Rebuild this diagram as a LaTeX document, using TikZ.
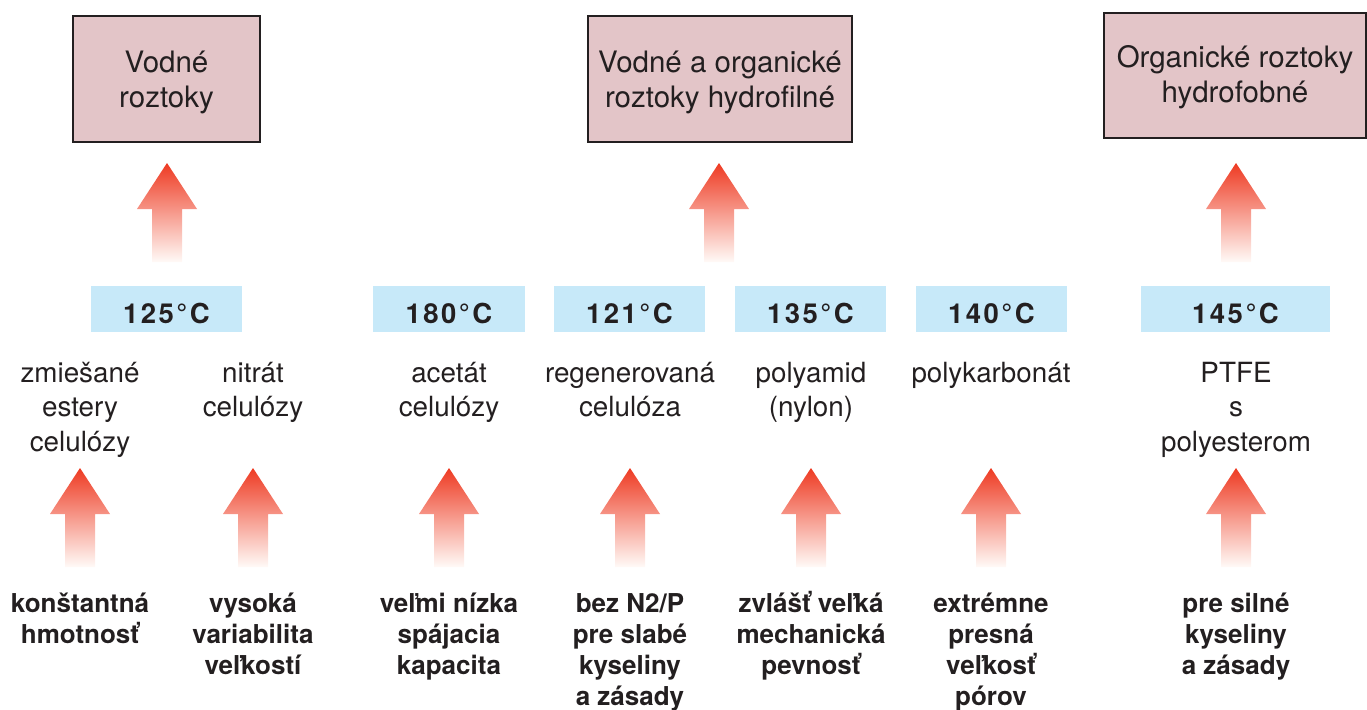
\documentclass[tikz,border=0pt]{standalone}
\usepackage{fontspec}
\setmainfont{TeX Gyre Heros}
\definecolor{txt}{HTML}{231F20}
\definecolor{pinkfill}{HTML}{E3C5C8}
\definecolor{tempfill}{HTML}{C7E9F9}
\definecolor{arrtop}{HTML}{EE3A22}
\definecolor{arrmid}{HTML}{F58C5E}
\definecolor{arrbot}{HTML}{FFFAF7}
\tikzset{
  pinkbox/.style={draw=txt, line width=1.3pt, fill=pinkfill, align=center, inner sep=0pt,
    text depth=0pt, font=\fontsize{29.5}{34.5}\selectfont, text=txt},
  tempbox/.style={fill=tempfill, minimum height=46pt, inner sep=0pt,
    text height=28pt, text depth=0pt, text=txt,
    font=\fontsize{27.5}{30}\selectfont\bfseries\addfontfeatures{LetterSpace=9}},
  mat/.style={align=center, inner sep=0pt, anchor=base, text=txt,
    font=\fontsize{27.8}{34.5}\selectfont},
  prop/.style={align=center, inner sep=0pt, anchor=base, text=txt,
    font=\fontsize{26}{31}\selectfont\bfseries},
  uparr/.pic={\shade[top color=arrtop, middle color=arrmid, bottom color=arrbot]
    (0,0) -- (30,46) -- (15,46) -- (15,99) -- (-15,99) -- (-15,46) -- (-30,46) -- cycle;}
}
\begin{document}
\begin{tikzpicture}[x=1pt,y=-1pt]
\useasboundingbox (0,0) rectangle (1367,709);
% top boxes
\node[pinkbox, text height=56pt, minimum width=187pt, minimum height=126pt] (b1) at (166.5,79) {Vodné\\roztoky};
\node[pinkbox, text height=56pt, minimum width=264pt, minimum height=126pt] (b2) at (720,79) {Vodné a organické\\roztoky hydrofilné};
\node[pinkbox, text height=53pt, minimum width=262pt, minimum height=125pt] (b3) at (1235,75.5) {Organické roztoky\\hydrofobné};
% top arrows
\pic (ta1) at (167,163) {uparr};
\pic (ta2) at (719,163) {uparr};
\pic (ta3) at (1236,163) {uparr};
% temperatures
\node[tempbox, minimum width=151pt] (t1) at (166.5,309) {125°C};
\node[tempbox, minimum width=152pt] (t2) at (449,309) {180°C};
\node[tempbox, minimum width=151pt] (t3) at (629.5,309) {121°C};
\node[tempbox, minimum width=151pt] (t4) at (810.5,309) {135°C};
\node[tempbox, minimum width=151pt] (t5) at (991.5,309) {140°C};
\node[tempbox, minimum width=189pt] (t6) at (1235.5,309) {145°C};
% materials (anchor = baseline of last line)
\node[mat] (m1) at (80,451) {zmiešané\\estery\\celulózy};
\node[mat] (m2) at (253,416.5) {nitrát\\celulózy};
\node[mat] (m3) at (449,416.5) {acetát\\celulózy};
\node[mat] (m4) at (630,416.5) {regenerovaná\\celulóza};
\node[mat] (m5) at (811,416.5) {polyamid\\(nylon)};
\node[mat] (m6) at (991,382) {polykarbonát};
\node[mat] (m7) at (1236,451) {PTFE\\s\\polyesterom};
% bottom arrows
\pic (ba1) at (80,468) {uparr};
\pic (ba2) at (253,468) {uparr};
\pic (ba3) at (449,468) {uparr};
\pic (ba4) at (630,468) {uparr};
\pic (ba5) at (811,468) {uparr};
\pic (ba6) at (991,468) {uparr};
\pic (ba7) at (1236,468) {uparr};
% properties (anchor = baseline of last line)
\node[prop] (p1) at (80,643) {konštantná\\hmotnosť};
\node[prop] (p2) at (253,674) {vysoká\\variabilita\\veľkostí};
\node[prop] (p3) at (449,674) {veľmi nízka\\spájacia\\kapacita};
\node[prop] (p4) at (630,705) {bez N2/P\\pre slabé\\kyseliny\\a zásady};
\node[prop] (p5) at (811,674) {zvlášť veľká\\mechanická\\pevnosť};
\node[prop] (p6) at (991,705) {extrémne\\presná\\veľkosť\\pórov};
\node[prop] (p7) at (1236,674) {pre silné\\kyseliny\\a zásady};
\end{tikzpicture}
\end{document}
